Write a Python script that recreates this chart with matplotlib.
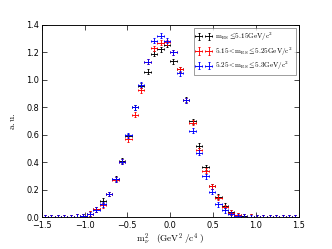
import numpy as np
import matplotlib
matplotlib.use("Agg")
import matplotlib.pyplot as plt

plt.rcParams['mathtext.fontset'] = 'cm'
plt.rcParams['xtick.direction'] = 'in'
plt.rcParams['ytick.direction'] = 'in'

# bin centres of m_nu^2 (40 bins between -1.5 and 1.5)
edges = np.linspace(-1.5, 1.5, 41)
centers = 0.5 * (edges[:-1] + edges[1:])
half_width = 0.5 * (edges[1] - edges[0])

# normalised yields
low_mes = [0.0, 0.0, 0.001, 0.001, 0.002, 0.004, 0.010, 0.025, 0.060, 0.120,
           0.170, 0.280, 0.410, 0.590, 0.800, 0.955, 1.060, 1.190, 1.220, 1.255,
           1.135, 1.075, 0.855, 0.700, 0.520, 0.365, 0.225, 0.150, 0.085, 0.036,
           0.017, 0.007, 0.003, 0.002, 0.001, 0.001, 0.001, 0.0, 0.0, 0.0]
mid_mes = [0.0, 0.0, 0.001, 0.001, 0.002, 0.004, 0.010, 0.028, 0.058, 0.088,
           0.170, 0.275, 0.405, 0.567, 0.745, 0.925, 1.130, 1.228, 1.270, 1.272,
           1.200, 1.075, 0.850, 0.688, 0.487, 0.340, 0.225, 0.142, 0.075, 0.034,
           0.016, 0.006, 0.003, 0.002, 0.001, 0.001, 0.001, 0.0, 0.0, 0.0]
high_mes = [0.0, 0.0, 0.001, 0.001, 0.002, 0.003, 0.008, 0.022, 0.057, 0.095,
            0.170, 0.278, 0.405, 0.598, 0.800, 0.965, 1.130, 1.283, 1.320, 1.285,
            1.200, 1.048, 0.852, 0.630, 0.468, 0.300, 0.187, 0.097, 0.053, 0.024,
            0.008, 0.004, 0.002, 0.001, 0.001, 0.001, 0.0, 0.0, 0.0, 0.0]

labels = [r'$\mathrm{m_{ES}} \leq\!5.15\mathrm{GeV/c^2}$',
          r'$5.15 <\!\mathrm{m_{ES}} \leq\!5.25\mathrm{GeV/c^2}$',
          r'$5.25 <\!\mathrm{m_{ES}} \leq\!5.3\mathrm{GeV/c^2}$']
colors = ['black', 'red', 'blue']

fig = plt.figure(figsize=(4, 3), dpi=83)
ax = fig.add_axes([0.1256, 0.127, 0.7741, 0.7737])

for yv, lab, col in zip([low_mes, mid_mes, high_mes], labels, colors):
    ax.errorbar(centers, yv, xerr=half_width, yerr=0.018, fmt='none',
                ecolor=col, elinewidth=0.8, capsize=1.0, capthick=0.8,
                label=lab)

ax.set_xlim(-1.5, 1.5)
ax.set_ylim(0, 1.4)
ax.set_xticks(np.arange(-1.5, 1.51, 0.5))
ax.set_yticks(np.arange(0, 1.41, 0.2))
ax.tick_params(labelsize=7, top=True, right=True, length=4, width=0.6)
ax.tick_params(axis='x', pad=3)
ax.tick_params(axis='y', pad=2)
for sp in ax.spines.values():
    sp.set_linewidth(0.8)

ax.set_xlabel(r'$\mathrm{m}_\nu^2\quad(\mathrm{GeV}^2\;/\mathrm{c}^4\;)$',
              fontsize=8, labelpad=1)
ax.set_ylabel(r'$\mathrm{a.u.}$', fontsize=8, labelpad=8)

leg = ax.legend(loc='upper right', numpoints=2, fontsize=6.2, fancybox=False,
                handlelength=2.0, borderpad=0.4, labelspacing=0.35,
                handletextpad=0.6, borderaxespad=0.4)
leg.get_frame().set_edgecolor('#555555')
leg.get_frame().set_linewidth(0.6)

fig.savefig('out.png', dpi=83)
